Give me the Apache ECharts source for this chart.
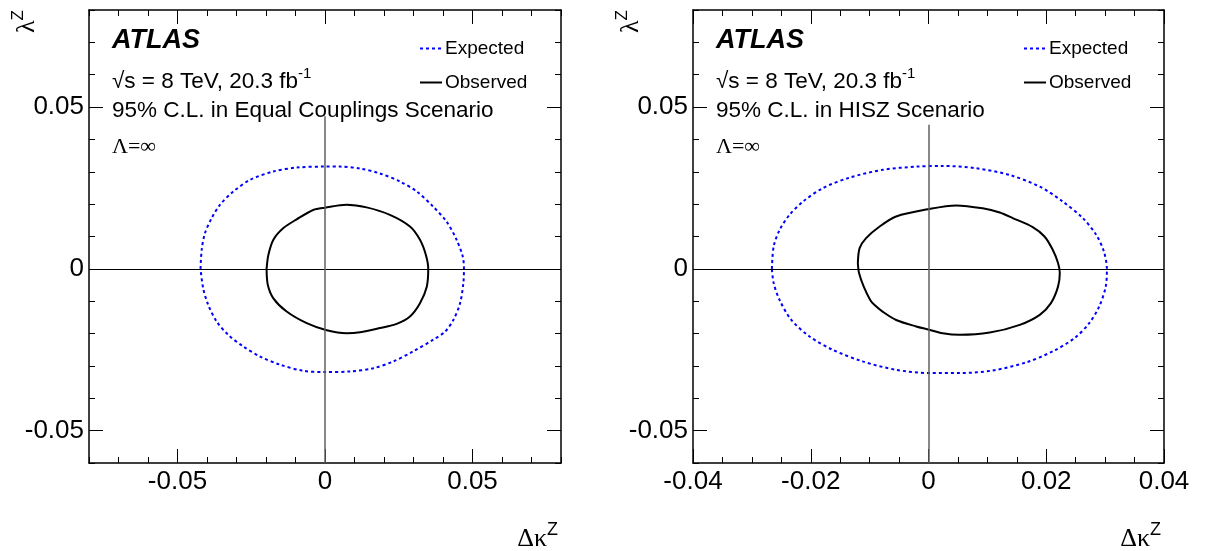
<!DOCTYPE html>
<html><head><meta charset="utf-8">
<script src="https://cdn.jsdelivr.net/npm/echarts@6.0.0/dist/echarts.min.js"></script>
<style>html,body{margin:0;padding:0;background:#fff}#c{width:1205px;height:551px}</style>
</head><body><div id="c"></div><script>
// ---- axis ranges and ticks ----
const xRangeL = [-0.08, 0.08];
const xRangeR = [-0.04, 0.04];
const yRange = [-0.06, 0.08];
const xMajorL = [-0.05, 0, 0.05];
const xMajorR = [-0.04, -0.02, 0, 0.02, 0.04];
const yMajor = [-0.05, 0, 0.05];
const xMinorStepL = 0.01;
const xMinorStepR = 0.005;
const yMinorStep = 0.01;
const zeroLineTop = [0.0472, 0.0445];
// ---- contours (Δκ^Z, λ^Z) ----
const expectedL = [[-0.0422,0],[-0.0418,0.0059],[-0.0407,0.0110],[-0.0384,0.0157],[-0.0356,0.0198],[-0.0311,0.0239],[-0.0254,0.0275],[-0.0175,0.0301],[-0.0096,0.0313],[0.0000,0.0316],[0.0051,0.0316],[0.0119,0.0310],[0.0186,0.0295],[0.0254,0.0270],[0.0311,0.0239],[0.0367,0.0192],[0.0412,0.0146],[0.0446,0.0090],[0.0467,0.0038],[0.0471,0],[0.0469,-0.0044],[0.0458,-0.0106],[0.0435,-0.0158],[0.0407,-0.0194],[0.0367,-0.0219],[0.0299,-0.0255],[0.0232,-0.0286],[0.0164,-0.0307],[0.0085,-0.0317],[0.0000,-0.0319],[-0.0074,-0.0315],[-0.0153,-0.0296],[-0.0220,-0.0271],[-0.0277,-0.0240],[-0.0328,-0.0204],[-0.0367,-0.0163],[-0.0396,-0.0111],[-0.0413,-0.0060],[-0.0422,0]];
const observedL = [[-0.0198,0],[-0.0192,0.0043],[-0.0175,0.0090],[-0.0141,0.0126],[-0.0096,0.0153],[-0.0040,0.0182],[0.0000,0.0189],[0.0073,0.0198],[0.0141,0.0190],[0.0220,0.0167],[0.0288,0.0131],[0.0322,0.0090],[0.0342,0.0043],[0.0350,0],[0.0345,-0.0055],[0.0322,-0.0106],[0.0288,-0.0147],[0.0243,-0.0170],[0.0186,-0.0183],[0.0119,-0.0196],[0.0073,-0.0199],[0.0006,-0.0190],[-0.0062,-0.0168],[-0.0130,-0.0132],[-0.0175,-0.0091],[-0.0194,-0.0049],[-0.0198,0]];
const expectedR = [[-0.0266,0],[-0.0263,0.0069],[-0.0253,0.0120],[-0.0236,0.0167],[-0.0213,0.0208],[-0.0180,0.0249],[-0.0134,0.0282],[-0.0078,0.0306],[-0.0021,0.0316],[0.0024,0.0318],[0.0081,0.0311],[0.0138,0.0290],[0.0189,0.0254],[0.0228,0.0208],[0.0262,0.0157],[0.0285,0.0105],[0.0298,0.0053],[0.0303,0],[0.0301,-0.0055],[0.0290,-0.0116],[0.0273,-0.0168],[0.0248,-0.0214],[0.0211,-0.0255],[0.0166,-0.0289],[0.0109,-0.0314],[0.0053,-0.0322],[0.0002,-0.0322],[-0.0055,-0.0312],[-0.0112,-0.0286],[-0.0163,-0.0250],[-0.0202,-0.0209],[-0.0233,-0.0158],[-0.0253,-0.0096],[-0.0263,-0.0044],[-0.0266,0]];
const observedR = [[-0.0120,0.0018],[-0.0117,0.0064],[-0.0106,0.0095],[-0.0083,0.0131],[-0.0055,0.0162],[0.0001,0.0185],[0.0047,0.0196],[0.0092,0.0187],[0.0121,0.0174],[0.0143,0.0157],[0.0177,0.0129],[0.0197,0.0100],[0.0211,0.0059],[0.0220,0.0018],[0.0223,-0.0013],[0.0220,-0.0055],[0.0208,-0.0106],[0.0189,-0.0142],[0.0155,-0.0173],[0.0104,-0.0197],[0.0053,-0.0204],[0.0024,-0.0199],[0.0001,-0.0188],[-0.0021,-0.0178],[-0.0055,-0.0158],[-0.0078,-0.0132],[-0.0092,-0.0111],[-0.0099,-0.0096],[-0.0110,-0.0055],[-0.0118,-0.0013],[-0.0120,0.0018]];
// ---- texts ----
const scenarioText = ['95% C.L. in Equal Couplings Scenario', '95% C.L. in HISZ Scenario'];
const seriesNames = ['Expected', 'Observed'];

const SANS = '"Liberation Sans", Arial, Helvetica, sans-serif';
const SERIF = '"Liberation Serif", "Times New Roman", serif';
const grids = [
  {left: 89, right: 644, top: 10, bottom: 88, outerBoundsMode: 'none'},
  {left: 693, right: 41, top: 10, bottom: 88, outerBoundsMode: 'none'}
];
const frameLine = {show: true, onZero: false, lineStyle: {color: '#000', width: 1.5}};
const tickStyle = {color: '#000', width: 1};

function makeAxes(gi, range, majors, step, posA, posB, withLabel, labelMargin) {
  const base = {type: 'value', gridIndex: gi, min: range[0], max: range[1], splitLine: {show: false}, silent: true};
  const major = (pos, lab) => Object.assign({}, base, {
    position: pos, axisLine: frameLine,
    axisTick: {show: true, inside: true, length: 14, customValues: majors, lineStyle: tickStyle},
    axisLabel: lab ? {show: true, customValues: majors, margin: labelMargin, fontSize: 26, fontFamily: SANS, color: '#000'} : {show: false}
  });
  const minor = (pos) => Object.assign({}, base, {
    position: pos, interval: step, axisLine: {show: false, onZero: false},
    axisTick: {show: true, inside: true, length: 6, lineStyle: tickStyle},
    axisLabel: {show: false}
  });
  return [major(posA, withLabel), minor(posA), major(posB, false), minor(posB)];
}

const xAxis = [].concat(
  makeAxes(0, xRangeL, xMajorL, xMinorStepL, 'bottom', 'top', true, 6),
  makeAxes(1, xRangeR, xMajorR, xMinorStepR, 'bottom', 'top', true, 6)
);
const yAxis = [].concat(
  makeAxes(0, yRange, yMajor, yMinorStep, 'left', 'right', true, 5),
  makeAxes(1, yRange, yMajor, yMinorStep, 'left', 'right', true, 5)
);

function zeroLines(xr, top) {
  return {
    symbol: 'none', silent: true, label: {show: false}, animation: false,
    lineStyle: {color: '#000', width: 1, type: 'solid'},
    data: [
      [{coord: [xr[0], 0]}, {coord: [xr[1], 0]}],
      [{coord: [0, yRange[0]], lineStyle: {color: '#606060', width: 1.5, type: 'solid'}}, {coord: [0, top]}]
    ]
  };
}

function panelSeries(axisIdx, exp, obs, xr, top) {
  return [
    {name: seriesNames[0], type: 'line', xAxisIndex: axisIdx, yAxisIndex: axisIdx, data: exp,
     symbol: 'none', smooth: 0.3, lineStyle: {color: '#0000ff', width: 2, type: [3, 3]}, itemStyle: {color: '#0000ff'}, z: 4},
    {name: seriesNames[1], type: 'line', xAxisIndex: axisIdx, yAxisIndex: axisIdx, data: obs,
     symbol: 'none', smooth: 0.3, lineStyle: {color: '#000', width: 2}, itemStyle: {color: '#000'}, z: 4,
     markLine: zeroLines(xr, top)}
  ];
}

const series = [].concat(
  panelSeries(0, expectedL, observedL, xRangeL, zeroLineTop[0]),
  panelSeries(4, expectedR, observedR, xRangeR, zeroLineTop[1])
);

function legendFor(left) {
  return {left: left, top: 34, orient: 'vertical', itemWidth: 22, itemHeight: 14, itemGap: 15,
    selectedMode: false, data: seriesNames,
    itemStyle: {opacity: 0, borderWidth: 0},
    textStyle: {fontSize: 19, fontFamily: SANS, color: '#000', padding: [0, 0, 0, -2]}};
}

function panelGraphics(gx, gr, scen) {
  const tx = gx + 23;
  return [
    {type: 'text', x: tx, y: 41, style: {text: 'ATLAS', fill: '#000', font: 'italic bold 27px ' + SANS, align: 'left', verticalAlign: 'middle'}},
    {type: 'text', x: tx, y: 80, style: {text: '{a|√s = 8 TeV, 20.3 fb}{b|-1}', align: 'left', verticalAlign: 'middle',
      rich: {a: {fill: '#000', fontSize: 22.5, fontFamily: SANS, verticalAlign: 'bottom', lineHeight: 27}, b: {fill: '#000', fontSize: 15, fontFamily: SANS, verticalAlign: 'top', lineHeight: 15}}}},
    {type: 'text', x: tx, y: 111, style: {text: scen, fill: '#000', font: '22.5px ' + SANS, align: 'left', verticalAlign: 'middle'}},
    {type: 'text', x: tx, y: 147, style: {text: 'Λ=∞', fill: '#000', font: '22px ' + SERIF, align: 'left', verticalAlign: 'middle'}},
    {type: 'text', x: gr - 3, y: 537, style: {text: '{d|Δκ}{z|Z}', align: 'right', verticalAlign: 'middle',
      rich: {d: {fill: '#000', fontSize: 26, fontFamily: SERIF, verticalAlign: 'bottom', lineHeight: 31}, z: {fill: '#000', fontSize: 18, fontFamily: SANS, verticalAlign: 'top', lineHeight: 18}}}},
    {type: 'text', x: gx - 64, y: 10, rotation: Math.PI / 2, style: {text: '{l|λ}{z|Z}', align: 'right', verticalAlign: 'middle',
      rich: {l: {fill: '#000', fontSize: 26, fontFamily: SERIF, verticalAlign: 'bottom', lineHeight: 30}, z: {fill: '#000', fontSize: 17, fontFamily: SANS, verticalAlign: 'top', lineHeight: 17}}}}
  ];
}

const chart = echarts.init(document.getElementById('c'), null, {renderer: 'canvas'});
chart.setOption({
  animation: false,
  backgroundColor: '#fff',
  grid: grids,
  xAxis: xAxis,
  yAxis: yAxis,
  legend: [legendFor(414), legendFor(1018)],
  series: series,
  graphic: [].concat(panelGraphics(89, 561, scenarioText[0]), panelGraphics(693, 1164, scenarioText[1]))
});
</script></body></html>
